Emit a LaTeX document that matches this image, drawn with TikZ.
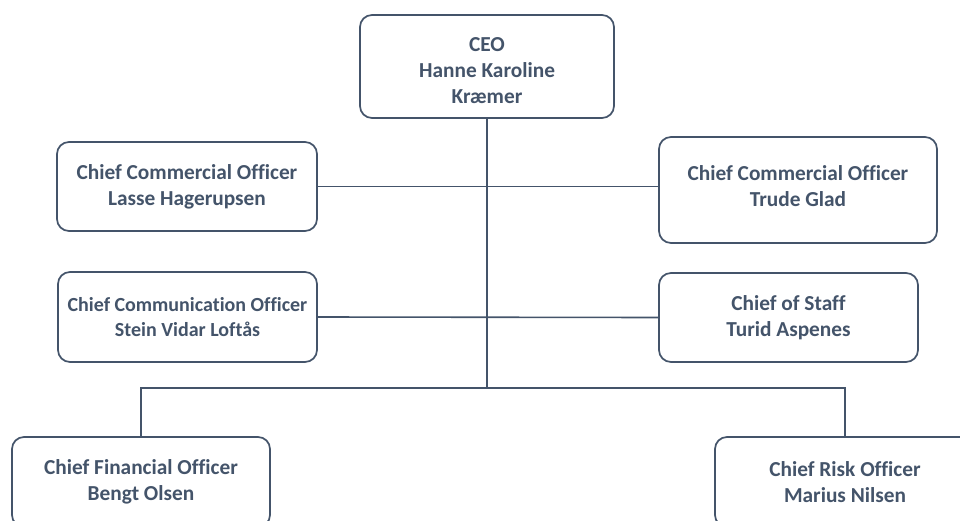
\documentclass[tikz,border=0pt]{standalone}
\usepackage{fontspec}
\setmainfont{Carlito}[Ligatures=NoCommon]
\definecolor{slate}{HTML}{44546A}
\begin{document}
\begin{tikzpicture}[x=0.75pt,y=-0.75pt,
  box/.style={draw=slate, line width=1.3pt, rounded corners=9pt, fill=white,
    text=slate, font=\bfseries\fontsize{16}{19.5}\selectfont, align=center, inner sep=0pt},
  boxtext/.style={text=slate, font=\bfseries\fontsize{16}{19.5}\selectfont, align=center, inner sep=0pt},
  link/.style={draw=slate, line width=1.2pt}]
\useasboundingbox (0,0) rectangle (960,521);
\clip (0,0) rectangle (960,521);
\node[box, minimum width=254*0.75pt, minimum height=103*0.75pt] (ceo) at (487,66.5) {};
\node[boxtext] (ceot) at (487,70.5) {CEO\\Hanne Karoline\\Kræmer};
\node[box, minimum width=260*0.75pt, minimum height=89*0.75pt] (ccol) at (187,186.5) {Chief Commercial Officer\\Lasse Hagerupsen};
\node[box, minimum width=278*0.75pt, minimum height=106*0.75pt] (ccor) at (798,190) {};
\node[boxtext] (ccort) at (798,186) {Chief Commercial Officer\\Trude Glad};
\node[box, minimum width=259*0.75pt, minimum height=90*0.75pt, font=\bfseries\fontsize{15}{19}\selectfont] (comm) at (187.5,317) {Chief Communication Officer\\Stein Vidar Loftås};
\node[box, minimum width=259*0.75pt, minimum height=89*0.75pt] (staff) at (788.5,317.5) {Chief of Staff\\Turid Aspenes};
\node[box, minimum width=258*0.75pt, minimum height=90*0.75pt] (cfo) at (141,482) {Chief Financial Officer\\Bengt Olsen};
\node[box, minimum width=260*0.75pt, minimum height=90*0.75pt] (cro) at (845,482) {Chief Risk Officer\\Marius Nilsen};
\coordinate (bus) at (487,388);
\path[link] (ceo.south) -- (bus);
\path[link] (ccol.east) -- (ccor.west |- ccol.east);
\path[link] (comm.east) -- (staff.west);
\path[link] (cfo.north) |- (bus) -| (cro.north);
\end{tikzpicture}
\end{document}
